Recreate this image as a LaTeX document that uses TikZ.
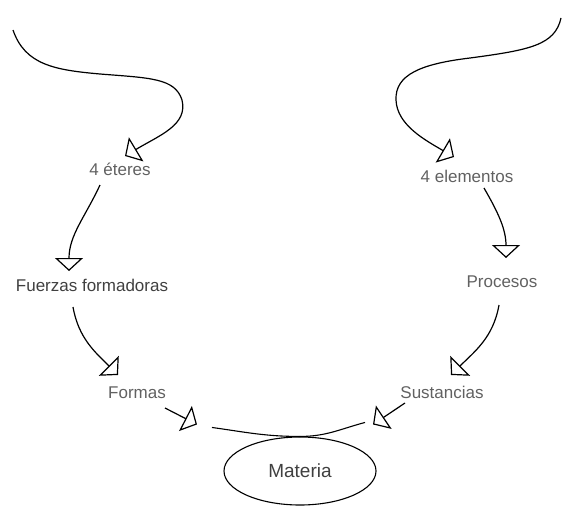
\documentclass[tikz,border=0pt]{standalone}
\usepackage{fontspec}
\setmainfont{Liberation Sans}
\usetikzlibrary{arrows.meta,calc,shapes.geometric}

\begin{document}
\begin{tikzpicture}[x=1pt,y=-1pt]
\tikzstyle{ConceptStyle}=[text=black!62, inner sep=2pt, text height=12pt, text depth=3pt, font=\fontsize{17}{20}\selectfont]
\tikzstyle{LinkStyle}=[line width=1.2pt, -{Triangle[open, length=13pt, width=28pt]}]
\tikzstyle{PlainLinkStyle}=[line width=1.1pt]
\tikzstyle{MateriaStyle}=[ellipse, draw, line width=1.1pt, minimum width=152pt, minimum height=68pt, text=black!75, font=\fontsize{19}{22}\selectfont]
\useasboundingbox (0,0) rectangle (562,506);
% concepts
\node[ConceptStyle] (eteres) at (120,171) {4 éteres};
\node[ConceptStyle] (elementos) at (467,178) {4 elementos};
\node[ConceptStyle, text=black!75] (fuerzas) at (92,287) {Fuerzas formadoras};
\node[ConceptStyle] (procesos) at (502,283) {Procesos};
\node[ConceptStyle] (formas) at (137,394) {Formas};
\node[ConceptStyle] (sustancias) at (442,394) {Sustancias};
\node[MateriaStyle] (materia) at (300,471) {Materia};
\coordinate (lt) at (13,30);
\coordinate (rt) at (561,18);
% links
\draw[LinkStyle] (lt) .. controls (25,65) and (55,70) .. (100,74) .. controls (150,78) and (175,78) .. (182,100) .. controls (188,125) and (160,135) .. ($(eteres)+(5,-15)$);
\draw[LinkStyle] (rt) .. controls (555,45) and (530,50) .. (470,58) .. controls (420,64) and (395,75) .. (396,100) .. controls (397,125) and (425,140) .. ($(elementos)+(-13,-21)$);
\draw[LinkStyle] ($(eteres)+(-20,14)$) to[out=-115,in=90] ($(fuerzas)+(-23,-16)$);
\draw[LinkStyle] ($(fuerzas)+(-19,20)$) to[out=-80,in=135] ($(formas)+(-19,-19)$);
\draw[LinkStyle] ($(elementos)+(17,10)$) to[out=-60,in=90] ($(procesos)+(4,-25)$);
\draw[LinkStyle] ($(procesos)+(-3,22)$) to[out=-100,in=45] ($(sustancias)+(9,-19)$);
\draw[LinkStyle] ($(formas)+(28,14)$) -- ($(materia.north)+(-103,-12)$);
\draw[LinkStyle] ($(sustancias)+(-37,9)$) -- ($(materia.north)+(73,-12)$);
\draw[PlainLinkStyle] ($(materia.north)+(-88,-9)$) to[out=-8,in=180] (materia.north);
\draw[PlainLinkStyle] ($(materia.north)+(65,-14)$) to[out=195,in=0] (materia.north);
\end{tikzpicture}
\end{document}
